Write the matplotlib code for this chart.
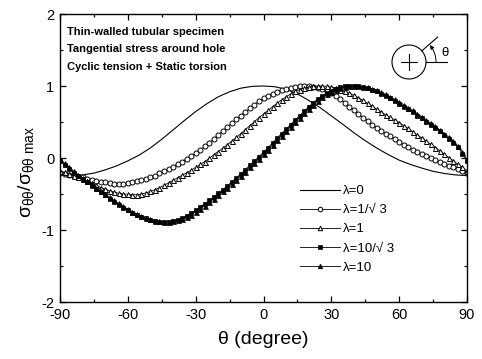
import numpy as np
import matplotlib
matplotlib.use("Agg")
import matplotlib.pyplot as plt
from matplotlib.patches import Circle
from matplotlib.ticker import MultipleLocator

plt.rcParams['font.family'] = ['Liberation Sans', 'DejaVu Sans']
plt.rcParams['mathtext.fontset'] = 'custom'
plt.rcParams['mathtext.rm'] = 'Liberation Sans'
plt.rcParams['mathtext.it'] = 'Liberation Sans'
plt.rcParams['mathtext.bf'] = 'Liberation Sans:bold'
plt.rcParams['axes.unicode_minus'] = False

# angle grid (degrees) for the marker series, 2 degree steps
theta = np.arange(-90, 91, 2)

# angle grid for the plain lambda = 0 curve, 5 degree steps
theta_line = np.arange(-90, 91, 5)

lam0 = [-0.24, -0.245, -0.235, -0.21, -0.165, -0.11, -0.04, 0.04, 0.14, 0.26,
        0.39, 0.52, 0.645, 0.755, 0.85, 0.92, 0.97, 0.995, 1.00, 0.99,
        0.955, 0.89, 0.80, 0.70, 0.585, 0.47, 0.35, 0.24, 0.14, 0.05,
        -0.03, -0.09, -0.14, -0.185, -0.215, -0.235, -0.245]

lam_inv_sqrt3 = [
    -0.21, -0.22, -0.23, -0.245, -0.26, -0.27, -0.285, -0.30, -0.315, -0.33,
    -0.34, -0.35, -0.355, -0.355, -0.355, -0.35, -0.34, -0.325, -0.31, -0.29,
    -0.27, -0.245, -0.215, -0.185, -0.155, -0.12, -0.085, -0.05, -0.01, 0.03,
    0.07, 0.115, 0.16, 0.21, 0.265, 0.32, 0.375, 0.43, 0.485, 0.54,
    0.59, 0.64, 0.69, 0.74, 0.79, 0.83, 0.865, 0.895, 0.92, 0.94,
    0.96, 0.975, 0.99, 1.00, 1.00, 1.00, 0.99, 0.975, 0.955, 0.93,
    0.90, 0.86, 0.815, 0.765, 0.715, 0.66, 0.61, 0.56, 0.515, 0.465,
    0.42, 0.38, 0.34, 0.30, 0.26, 0.22, 0.185, 0.15, 0.115, 0.08,
    0.05, 0.025, 0.0, -0.03, -0.055, -0.08, -0.105, -0.13, -0.155, -0.18,
    -0.21]

lam1 = [
    -0.18, -0.20, -0.22, -0.245, -0.27, -0.295, -0.32, -0.35, -0.38, -0.41,
    -0.435, -0.455, -0.475, -0.49, -0.50, -0.505, -0.51, -0.51, -0.50, -0.485,
    -0.465, -0.44, -0.41, -0.38, -0.345, -0.31, -0.275, -0.24, -0.205, -0.17,
    -0.13, -0.09, -0.05, -0.005, 0.045, 0.09, 0.135, 0.185, 0.235, 0.285,
    0.34, 0.395, 0.45, 0.505, 0.56, 0.61, 0.66, 0.71, 0.76, 0.805,
    0.85, 0.89, 0.925, 0.95, 0.97, 0.985, 0.995, 1.00, 1.00, 0.995,
    0.985, 0.97, 0.95, 0.925, 0.90, 0.87, 0.835, 0.80, 0.76, 0.72,
    0.68, 0.64, 0.60, 0.565, 0.53, 0.49, 0.45, 0.41, 0.365, 0.32,
    0.28, 0.235, 0.19, 0.145, 0.10, 0.05, 0.005, -0.04, -0.085, -0.13,
    -0.18]

lam10_sqrt3 = [
    -0.04, -0.10, -0.155, -0.205, -0.25, -0.295, -0.34, -0.385, -0.43, -0.475,
    -0.52, -0.565, -0.61, -0.65, -0.69, -0.725, -0.76, -0.79, -0.815, -0.84,
    -0.86, -0.875, -0.885, -0.89, -0.885, -0.875, -0.855, -0.83, -0.80, -0.765,
    -0.725, -0.68, -0.635, -0.59, -0.54, -0.49, -0.44, -0.385, -0.33, -0.275,
    -0.22, -0.16, -0.10, -0.04, 0.02, 0.08, 0.145, 0.21, 0.275, 0.34,
    0.40, 0.465, 0.53, 0.59, 0.65, 0.71, 0.77, 0.82, 0.865, 0.905,
    0.935, 0.96, 0.98, 0.995, 1.00, 1.00, 0.995, 0.985, 0.97, 0.95,
    0.925, 0.895, 0.865, 0.83, 0.795, 0.755, 0.715, 0.675, 0.635, 0.59,
    0.55, 0.505, 0.46, 0.415, 0.37, 0.32, 0.27, 0.215, 0.15, 0.06,
    -0.04]

lam10 = [
    -0.02, -0.07, -0.13, -0.18, -0.23, -0.275, -0.32, -0.365, -0.41, -0.455,
    -0.50, -0.545, -0.59, -0.63, -0.67, -0.71, -0.745, -0.775, -0.805, -0.83,
    -0.85, -0.87, -0.88, -0.885, -0.885, -0.88, -0.865, -0.845, -0.815, -0.785,
    -0.745, -0.705, -0.66, -0.615, -0.565, -0.515, -0.465, -0.41, -0.36, -0.30,
    -0.245, -0.19, -0.13, -0.07, -0.01, 0.05, 0.115, 0.18, 0.245, 0.31,
    0.37, 0.435, 0.50, 0.56, 0.62, 0.68, 0.74, 0.795, 0.845, 0.885,
    0.92, 0.95, 0.97, 0.985, 0.995, 1.00, 1.00, 0.99, 0.98, 0.96,
    0.94, 0.915, 0.885, 0.85, 0.815, 0.78, 0.74, 0.70, 0.66, 0.615,
    0.575, 0.53, 0.485, 0.44, 0.39, 0.34, 0.29, 0.235, 0.165, 0.08,
    -0.02]

labels = ['λ=0', 'λ=1/√ 3', 'λ=1', 'λ=10/√ 3', 'λ=10']
x_ticks = [-90, -60, -30, 0, 30, 60, 90]
y_ticks = [-2, -1, 0, 1, 2]
notes = ['Thin-walled tubular specimen',
         'Tangential stress around hole',
         'Cyclic tension + Static torsion']

W, H = 482, 359
fig = plt.figure(figsize=(W / 100, H / 100), dpi=100)
ax = fig.add_axes([60 / W, 57 / H, 407 / W, 288 / H])

ax.plot(theta_line, lam0, color='black', lw=0.8, label=labels[0])
ax.plot(theta, lam_inv_sqrt3, color='black', lw=0.6, marker='o', ms=3.6,
        mfc='white', mec='black', mew=0.7, label=labels[1])
ax.plot(theta, lam1, color='black', lw=0.6, marker='^', ms=3.6,
        mfc='white', mec='black', mew=0.7, label=labels[2])
ax.plot(theta, lam10_sqrt3, color='black', lw=0.6, marker='s', ms=3.4,
        mfc='black', mec='black', mew=0.5, label=labels[3])
ax.plot(theta, lam10, color='black', lw=0.6, marker='^', ms=3.6,
        mfc='black', mec='black', mew=0.5, label=labels[4])

ax.set_xlim(-90, 90)
ax.set_ylim(-2, 2)
ax.set_xticks(x_ticks)
ax.set_yticks(y_ticks)
ax.xaxis.set_minor_locator(MultipleLocator(15))
ax.yaxis.set_minor_locator(MultipleLocator(0.5))
ax.tick_params(which='both', direction='in', top=True, right=True,
               labelsize=10.5, width=0.9)
ax.tick_params(which='major', length=4.5, pad=4)
ax.tick_params(which='minor', length=2.2)
for s in ax.spines.values():
    s.set_linewidth(1.0)

ax.set_xlabel('θ (degree)', fontsize=14, labelpad=7)
ax.set_ylabel(r'$\sigma_{\theta\theta}/\sigma_{\theta\theta\ \mathrm{max}}$',
              fontsize=14)
ax.yaxis.set_label_coords(-0.06, 0.45)

# notes in the upper left corner, positioned in pixels from the top edge
for i, t in enumerate(notes):
    ax.text(67, H - (35 + i * 17.5), t, transform=None, fontsize=8.0,
            fontweight='bold', va='baseline')

ax.legend(loc='upper left', bbox_to_anchor=((300 - 60) / 407, (302 - 185) / 288),
          frameon=False, fontsize=9.5, handlelength=3.0, handletextpad=0.25,
          labelspacing=0.52, borderpad=0, borderaxespad=0, markerscale=0.9)

# sketch of the hole with the angle theta
ins = fig.add_axes([385 / W, (H - 90) / H, 75 / W, 65 / H])
ins.set_xlim(385, 460)
ins.set_ylim(90, 25)
ins.set_aspect('equal')
ins.axis('off')
cx, cy, r = 409, 62, 17
ins.add_patch(Circle((cx, cy), r, fill=False, lw=0.8, color='black'))
ins.plot([cx - 8, cx + 8], [cy, cy], color='black', lw=0.8)
ins.plot([cx, cx], [cy - 8, cy + 8], color='black', lw=0.8)
ang = np.deg2rad(41)
ins.plot([cx + r * np.cos(ang), cx + 38 * np.cos(ang)],
         [cy - r * np.sin(ang), cy - 38 * np.sin(ang)], color='black', lw=0.8)
ins.plot([cx + r, cx + 38], [cy, cy], color='black', lw=0.8)
phi = np.deg2rad(np.linspace(0, 30, 20))
ins.plot(cx + 27 * np.cos(phi), cy - 27 * np.sin(phi), color='black', lw=0.7)
p_end = np.deg2rad(39)
ins.annotate('', xy=(cx + 27 * np.cos(p_end), cy - 27 * np.sin(p_end)),
             xytext=(cx + 27 * np.cos(phi[-1]), cy - 27 * np.sin(phi[-1])),
             arrowprops=dict(arrowstyle='-|>', lw=0.6, color='black',
                             mutation_scale=6, shrinkA=0, shrinkB=0))
ins.text(441, 53, 'θ', fontsize=9.5, va='center', ha='left')

fig.savefig('out.png', dpi=100)
